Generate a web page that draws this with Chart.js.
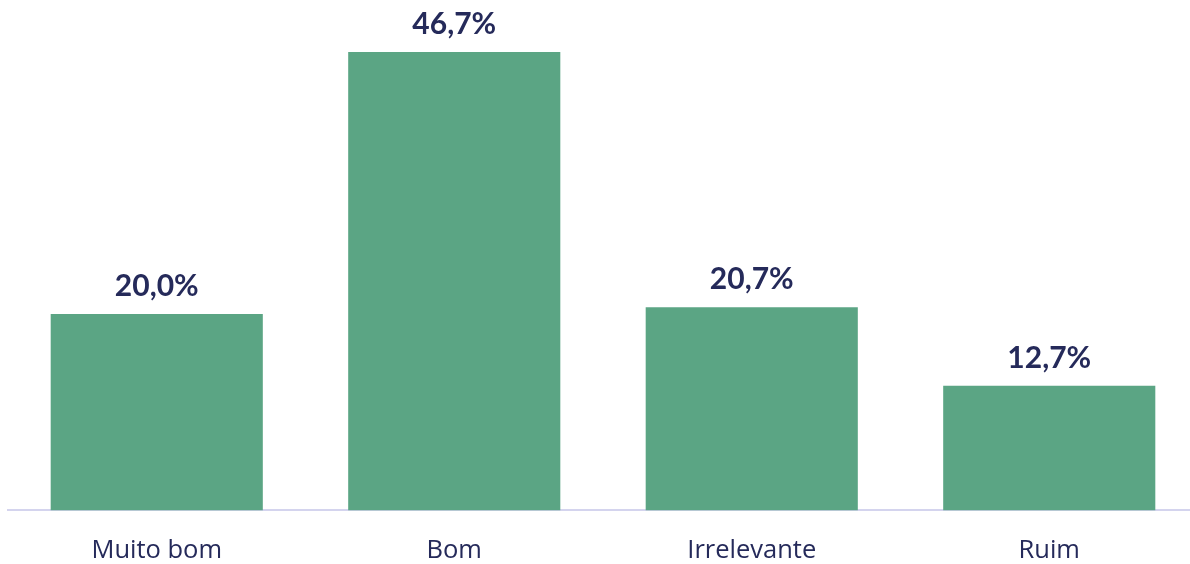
<!DOCTYPE html>
<html>
<head>
<meta charset="utf-8">
<script src="https://cdn.jsdelivr.net/npm/chart.js@4.4.1/dist/chart.umd.min.js"></script>
<style>
  html, body { margin: 0; padding: 0; background: #fff; overflow: hidden; }
  #wrap { width: 1198px; height: 564px; }
</style>
</head>
<body>
<div id="wrap"><canvas id="chart"></canvas></div>
<script>
const categories = ["Muito bom", "Bom", "Irrelevante", "Ruim"];
const percentages = [20.0, 46.7, 20.7, 12.7];

const navy = "#252a5a";

// draws the value labels above each bar
const barLabels = {
  id: "barLabels",
  afterDatasetsDraw(chart) {
    const ctx = chart.ctx;
    const meta = chart.getDatasetMeta(0);
    ctx.save();
    ctx.font = "bold 30px Lato";
    ctx.fillStyle = navy;
    ctx.textAlign = "center";
    ctx.textBaseline = "alphabetic";
    meta.data.forEach((bar, i) => {
      const txt = percentages[i].toFixed(1).replace(".", ",") + "%";
      ctx.fillText(txt, bar.x, bar.y - 18);
    });
    ctx.restore();
  }
};

const ctx = document.getElementById("chart").getContext("2d");
new Chart(ctx, {
  type: "bar",
  data: {
    labels: categories,
    datasets: [{
      data: percentages,
      backgroundColor: "#5ba584",
      barPercentage: 0.713,
      categoryPercentage: 1.0
    }]
  },
  options: {
    responsive: true,
    maintainAspectRatio: false,
    animation: false,
    layout: { padding: { left: 8, right: 0, top: 0, bottom: -19 } },
    plugins: {
      legend: { display: false },
      tooltip: { enabled: false }
    },
    scales: {
      x: {
        grid: { display: false },
        border: { display: true, color: "#d4d4ee", width: 2 },
        ticks: {
          color: navy,
          font: { family: "Open Sans", size: 25.5 },
          padding: 17
        }
      },
      y: {
        display: false,
        min: 0,
        max: 52
      }
    }
  },
  plugins: [barLabels]
});
</script>
</body>
</html>
